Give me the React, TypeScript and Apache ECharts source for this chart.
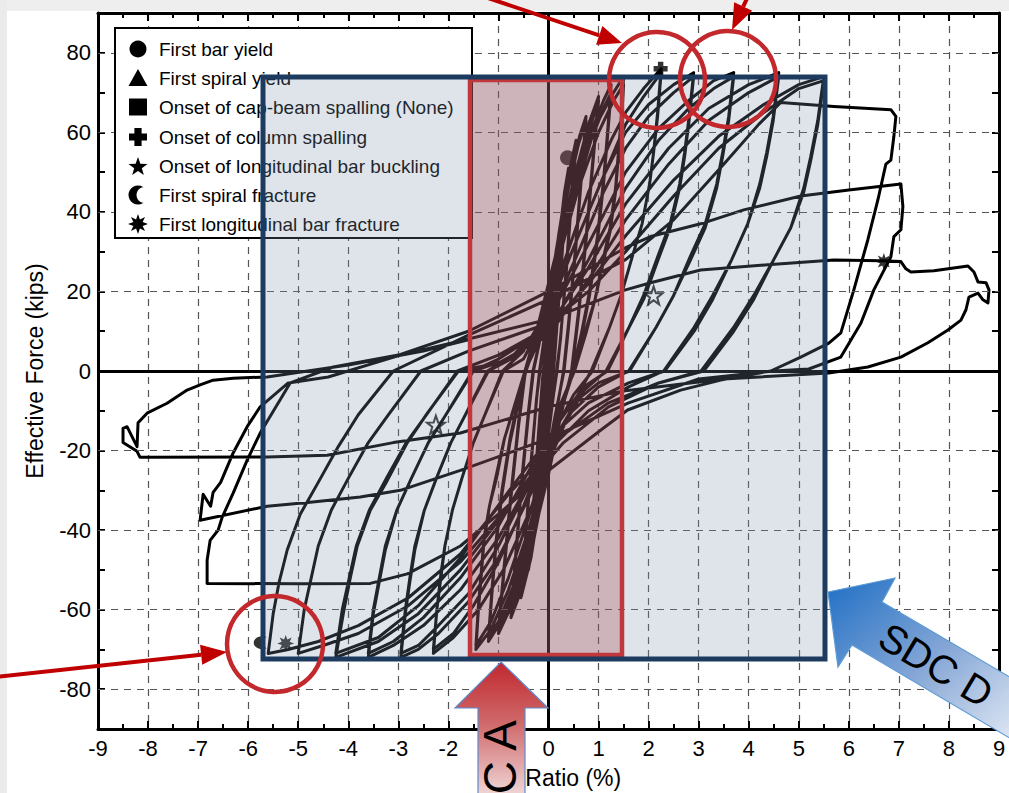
import React, { useEffect, useRef } from "react";
import * as echarts from "echarts";

// ---------------- data: drift ratio (%) vs effective force (kips) ----------------
const yGridValues = [-80, -60, -40, -20, 20, 40, 60, 80];
const legendNames = [
  "First bar yield",
  "First spiral yield",
  "Onset of cap-beam spalling (None)",
  "Onset of column spalling",
  "Onset of longitudinal bar buckling",
  "First spiral fracture",
  "First longitudinal bar fracture",
];

const c010 = [[0,0],[0.05,8],[0.1,15],[0.07,9],[0.03,1],[-0.02,-3],[-0.06,-9],[-0.1,-14],[-0.07,-8],[-0.03,-1],[0.01,2]];
const c020 = [[0.01,2],[0.1,14],[0.2,26],[0.15,17],[0.08,5],[0.02,-3],[-0.1,-15],[-0.2,-25],[-0.15,-16],[-0.08,-4],[-0.02,3]];
const c030 = [[-0.02,3],[0.1,17],[0.2,28],[0.3,37],[0.23,25],[0.14,10],[0.07,0],[-0.05,-12],[-0.18,-25],[-0.3,-36],[-0.23,-24],[-0.14,-9],[-0.07,0]];
const c040 = [[-0.07,0],[0.05,14],[0.2,32],[0.32,45],[0.4,51],[0.32,38],[0.22,20],[0.12,3],[0.05,-6],[-0.1,-22],[-0.25,-38],[-0.4,-50],[-0.32,-37],[-0.22,-19],[-0.12,-2],[-0.08,3]];
const c055a = [[-0.08,3],[0.05,18],[0.2,34],[0.38,48],[0.55,58],[0.46,44],[0.35,25],[0.24,8],[0.16,0],[0.02,-14],[-0.15,-31],[-0.35,-47],[-0.55,-57],[-0.46,-43],[-0.35,-24],[-0.24,-7],[-0.17,0]];
const c055b = [[-0.17,0],[-0.02,14],[0.15,30],[0.35,45],[0.55,56],[0.46,43],[0.35,24],[0.23,7],[0.17,0],[0.03,-12],[-0.15,-29],[-0.35,-45],[-0.55,-55],[-0.46,-42],[-0.35,-23],[-0.23,-6],[-0.18,0]];
const c075a = [[-0.18,0],[-0.02,14],[0.2,32],[0.45,50],[0.62,59],[0.75,64],[0.66,50],[0.54,31],[0.4,12],[0.3,0],[0.12,-13],[-0.1,-30],[-0.35,-46],[-0.6,-57],[-0.75,-62],[-0.66,-48],[-0.54,-29],[-0.4,-11],[-0.3,0]];
const c075b = [[-0.3,0],[-0.1,12],[0.15,29],[0.4,46],[0.6,57],[0.75,63],[0.66,49],[0.54,30],[0.4,11],[0.31,0],[0.12,-12],[-0.1,-28],[-0.35,-44],[-0.6,-56],[-0.75,-61],[-0.66,-47],[-0.54,-28],[-0.4,-10],[-0.31,0]];
const c100a = [[-0.31,0],[-0.1,12],[0.2,30],[0.5,48],[0.8,62],[1.0,69],[0.9,55],[0.76,35],[0.6,15],[0.46,0],[0.25,-11],[0,-26],[-0.35,-44],[-0.7,-58],[-1.0,-66],[-0.9,-52],[-0.76,-33],[-0.6,-14],[-0.46,0]];
const c100b = [[-0.46,0],[-0.2,10],[0.1,25],[0.45,44],[0.8,60],[1.0,68],[0.9,54],[0.76,34],[0.6,14],[0.47,0],[0.25,-10],[0,-23],[-0.35,-41],[-0.7,-56],[-1.0,-65],[-0.9,-51],[-0.76,-32],[-0.6,-13],[-0.47,0]];
const c125a = [[-0.47,0],[-0.2,11],[0.15,29],[0.5,46],[0.85,60],[1.1,68],[1.25,72],[1.18,60],[1.1,48],[0.98,34],[0.82,20],[0.65,9],[0.48,0],[0.25,-10],[0,-24],[-0.35,-42],[-0.7,-56],[-1.0,-64],[-1.2,-68],[-1.13,-56],[-1.05,-44],[-0.93,-31],[-0.77,-18],[-0.6,-8],[-0.45,0]];
const c125b = [[-0.45,0],[-0.2,9],[0.15,26],[0.5,43],[0.85,58],[1.1,66],[1.25,70],[1.18,59],[1.1,47],[0.98,33],[0.82,19],[0.65,8],[0.5,0],[0.25,-9],[0,-21],[-0.35,-39],[-0.7,-54],[-1.0,-63],[-1.2,-67],[-1.13,-55],[-1.05,-43],[-0.93,-30],[-0.77,-17],[-0.6,-7],[-0.47,0]];
const c150a = [[-0.47,0],[-0.2,12],[0.2,32],[0.6,50],[1.0,63],[1.3,70],[1.5,74],[1.45,63],[1.39,54],[1.34,46],[1.23,36],[1.09,28],[0.93,18],[0.76,11],[0.5,0],[0.25,-10],[0,-22],[-0.4,-40],[-0.8,-55],[-1.15,-65],[-1.45,-70],[-1.4,-60],[-1.34,-51],[-1.29,-43],[-1.18,-34],[-1.04,-27],[-0.88,-17],[-0.71,-10],[-0.45,0]];
const c150b = [[-0.45,0],[-0.2,9],[0.2,28],[0.6,46],[1.0,60],[1.3,68],[1.5,72],[1.45,61],[1.39,53],[1.34,45],[1.23,35],[1.09,27],[0.93,18],[0.76,10],[0.52,0],[0.25,-8],[0,-19],[-0.4,-37],[-0.8,-52],[-1.15,-63],[-1.45,-69],[-1.4,-59],[-1.34,-50],[-1.29,-42],[-1.18,-34],[-1.04,-26],[-0.88,-17],[-0.71,-10],[-0.47,0]];
const c225a = [[-0.47,0],[-0.1,10],[0.3,27],[0.8,45],[1.25,58],[1.54,65],[1.9,71],[2.25,76],[2.18,65],[2.1,55],[2.02,47],[1.87,37],[1.68,29],[1.45,19],[1.22,11],[0.85,0],[0.5,-8],[0.1,-20],[-0.4,-36],[-0.9,-50],[-1.4,-60],[-1.9,-67],[-2.3,-71],[-2.23,-60],[-2.15,-52],[-2.07,-44],[-1.92,-35],[-1.73,-27],[-1.5,-18],[-1.27,-11],[-0.9,0]];
const c225b = [[-0.9,0],[-0.5,3],[0,15],[0.5,31],[1.0,46],[1.54,62],[1.9,69],[2.25,75],[2.18,64],[2.1,55],[2.02,47],[1.87,37],[1.68,29],[1.45,19],[1.22,11],[0.88,0],[0.5,-6],[0,-18],[-0.5,-34],[-1.0,-48],[-1.5,-59],[-1.9,-66],[-2.3,-70],[-2.23,-60],[-2.15,-51],[-2.07,-44],[-1.92,-35],[-1.73,-27],[-1.5,-18],[-1.27,-11],[-0.92,0]];
const c290a = [[-0.92,0],[-0.5,5],[0,16],[0.6,34],[1.1,49],[1.54,60],[2.0,67],[2.5,72],[2.9,75],[2.81,64],[2.72,55],[2.62,47],[2.43,37],[2.19,29],[1.9,19],[1.61,11],[1.15,0],[0.7,-5],[0.2,-16],[-0.4,-32],[-1.0,-47],[-1.6,-58],[-2.2,-66],[-2.6,-70],[-2.95,-72],[-2.86,-61],[-2.77,-53],[-2.67,-45],[-2.48,-35],[-2.24,-27],[-1.95,-18],[-1.66,-11],[-1.2,0]];
const c290b = [[-1.2,0],[-0.6,4],[0,13],[0.6,30],[1.1,45],[1.54,56],[2.0,64],[2.5,70],[2.9,74],[2.81,63],[2.72,54],[2.62,46],[2.43,36],[2.19,28],[1.9,18],[1.61,11],[1.18,0],[0.7,-4],[0.2,-13],[-0.4,-29],[-1.0,-44],[-1.6,-56],[-2.2,-64],[-2.6,-69],[-2.95,-71],[-2.86,-60],[-2.77,-52],[-2.67,-44],[-2.48,-35],[-2.24,-27],[-1.95,-18],[-1.66,-11],[-1.22,0]];
const c370a = [[-1.22,0],[-0.7,4],[0,13],[0.8,32],[1.54,50],[2.2,61],[2.8,68],[3.3,73],[3.7,75],[3.6,64],[3.48,55],[3.36,47],[3.13,37],[2.84,29],[2.5,19],[2.15,11],[1.6,0],[1.0,-4],[0.4,-11],[-0.3,-26],[-1.0,-42],[-1.76,-55],[-2.5,-64],[-3.1,-69],[-3.6,-72],[-3.5,-61],[-3.38,-53],[-3.26,-45],[-3.03,-35],[-2.74,-27],[-2.4,-18],[-2.05,-11],[-1.5,0]];
const c370b = [[-1.5,0],[-0.8,3],[0,10],[0.8,28],[1.54,46],[2.2,58],[2.8,66],[3.3,71],[3.7,74],[3.6,63],[3.48,54],[3.36,46],[3.13,36],[2.84,28],[2.5,19],[2.15,11],[1.62,0],[1.0,-3],[0.4,-9],[-0.3,-23],[-1.0,-39],[-1.76,-52],[-2.5,-62],[-3.1,-68],[-3.6,-71],[-3.5,-60],[-3.38,-52],[-3.26,-44],[-3.03,-35],[-2.74,-27],[-2.4,-18],[-2.05,-11],[-1.52,0]];
const c460a = [[-1.52,0],[-1.0,3],[0,11],[0.8,26],[1.54,42],[2.4,56],[3.2,66],[4.0,72],[4.6,75],[4.49,64],[4.36,55],[4.22,47],[3.98,37],[3.66,28],[3.28,19],[2.91,11],[2.3,0],[1.6,-4],[0.8,-10],[0,-20],[-0.9,-36],[-1.76,-50],[-2.6,-61],[-3.4,-68],[-4.25,-72],[-4.1,-61],[-3.96,-52],[-3.82,-44],[-3.56,-35],[-3.22,-27.5],[-2.82,-18],[-2.42,-10.6],[-1.8,0]];
const c460b = [[-1.8,0],[-1.0,2],[0,9],[0.8,23],[1.54,38],[2.4,52],[3.2,63],[4.0,70],[4.6,74],[4.49,63],[4.36,54],[4.22,46],[3.98,37],[3.66,28],[3.28,18],[2.91,10],[2.32,0],[1.6,-3],[0.8,-8],[0,-17],[-0.9,-32],[-1.76,-47],[-2.6,-59],[-3.4,-67],[-4.25,-71],[-4.12,-60],[-3.98,-52],[-3.84,-44],[-3.58,-35],[-3.24,-27],[-2.84,-18],[-2.44,-11],[-1.82,0]];
const c550a = [[-1.82,0],[-1.0,4],[0,11],[0.8,22],[1.54,34],[2.5,48],[3.4,59],[4.3,67],[5.0,72],[5.5,74],[5.38,63],[5.24,54],[5.1,46],[4.84,36],[4.5,28],[4.1,19],[3.7,11],[3.05,0],[2.2,-3],[1.2,-9],[0.3,-18],[-0.8,-34],[-1.76,-48],[-2.8,-59],[-3.8,-66],[-4.5,-69],[-5.0,-71],[-4.88,-60],[-4.74,-52],[-4.6,-44],[-4.34,-35],[-4.0,-27],[-3.6,-18],[-3.2,-11],[-2.55,0]];
const c550b = [[-2.55,0],[-1.6,5],[0,12],[0.8,20],[1.54,30],[2.5,44],[3.4,56],[4.3,65],[5.0,71],[5.5,73],[5.38,62],[5.24,53],[5.1,45],[4.84,36],[4.5,28],[4.1,18],[3.7,10],[3.1,0],[2.2,-3],[1.2,-8],[0.3,-16],[-0.8,-31],[-1.76,-46],[-2.8,-57],[-3.8,-64],[-4.6,-68],[-5.2,-70],[-5.6,-71],[-5.5,-61],[-5.38,-53],[-5.22,-45],[-4.96,-36],[-4.6,-28],[-4.2,-19],[-3.8,-11],[-3.1,0]];
const c700a = [[-3.1,0],[-1.6,9],[0,18],[1.54,28],[2.5,38],[3.5,52],[4.2,62],[4.64,67.5],[5.7,66.5],[6.84,65.7],[6.94,64],[6.9,59],[6.84,53],[6.74,52],[6.58,43],[6.38,33],[6.1,20.4],[5.84,9.6],[5.6,7],[5.04,3.5],[4.44,0],[3.44,-2.3],[2.64,-4.8],[1.58,-9.8],[1.04,-14.9],[0,-25],[-1.0,-36],[-1.76,-44],[-2.82,-51],[-3.56,-53.4],[-5.0,-53.5],[-6.82,-53.4],[-6.82,-47.6],[-6.76,-42.6],[-6.6,-40],[-6.52,-36.8],[-6.3,-30.7],[-6.02,-22.4],[-5.76,-15.6],[-5.16,-3],[-4.3,1]];
const c700b = [[-4.3,1],[-3.0,4],[-1.6,10],[0,20],[1.54,31],[2.04,33.8],[3.04,37],[3.9,40.5],[5.04,44],[6.0,45.5],[7.04,47],[7.08,41.3],[7.04,35.5],[6.9,33.8],[6.84,28.7],[6.5,20.4],[6.24,12],[5.84,3.5],[5.2,0.5],[4.5,0],[3.0,-2],[1.6,-8],[0,-17],[-1.76,-25],[-2.96,-30],[-3.76,-31.7],[-4.76,-33],[-5.62,-34],[-6.96,-37.5],[-6.9,-31],[-6.75,-34],[-6.7,-30.5],[-6.55,-28],[-6.3,-20.6],[-6.02,-14],[-5.76,-9],[-5.2,-3],[-4.4,-1.5]];
const c880 = [[-4.4,-1.5],[-2.96,4],[-1.62,8],[0,13],[1.54,20.4],[2.04,22.2],[3.04,25.4],[4.38,26.7],[5.7,27.9],[6.64,27.7],[7.04,27.5],[7.14,25.7],[7.24,24.9],[7.7,25.2],[8.38,26.4],[8.5,24.9],[8.58,22.4],[8.74,22.2],[8.8,20.4],[8.78,17.1],[8.68,17.9],[8.58,19.6],[8.4,18.6],[8.34,15.4],[8.24,12.8],[7.98,10.3],[7.58,7.1],[7.04,3.5],[6.38,1],[5.6,-0.5],[3.5,-2],[1.5,-5],[0,-9],[-1.76,-15.6],[-3.1,-18],[-4.42,-21.2],[-5.62,-21.6],[-8.16,-21.7],[-8.22,-20.2],[-8.5,-18],[-8.5,-14.4],[-8.42,-14],[-8.22,-19],[-8.2,-13],[-8.02,-10.6],[-7.62,-8.1],[-7.22,-4.8],[-6.96,-3.5],[-6.7,-2.3],[-6.3,-1.8],[-5.62,-1.5],[-4.0,1.5],[-2.5,5],[-1.62,7.8]];

const cycles = [c010, c020, c030, c040, c055a, c055b, c075a, c075b, c100a, c100b, c125a, c125b, c150a, c150b,
  c225a, c225b, c290a, c290b, c370a, c370b, c460a, c460b, c550a, c550b, c700a, c700b, c880];
const response = cycles.flat();

const barYield = [[0.38, 53.6]];
const columnSpalling = [[2.24, 76]];
const barBuckling = [[2.1, 19], [-2.25, -13.5]];
const spiralFracture = [[-5.76, -68.3]];
const barFracture = [[6.7, 27.5], [-5.25, -68.5]];

// ---------------- shapes ----------------
function starPts(cx: number, cy: number, R: number, r: number, n: number) {
  const pts: number[][] = [];
  for (let k = 0; k < n * 2; k++) {
    const a = (k * Math.PI) / n - Math.PI / 2;
    const rad = k % 2 === 0 ? R : r;
    pts.push([cx + rad * Math.cos(a), cy + rad * Math.sin(a)]);
  }
  return pts;
}
const toPath = (pts: number[][]) =>
  "path://M" + pts.map((p) => p[0].toFixed(2) + "," + p[1].toFixed(2)).join("L") + "Z";
const STAR = toPath(starPts(0, 0, 10, 4, 5));
const BURST = toPath(starPts(0, 0, 10, 5, 8));
const PLUS = "path://M-3.5,-9L3.5,-9L3.5,-3.5L9,-3.5L9,3.5L3.5,3.5L3.5,9L-3.5,9L-3.5,3.5L-9,3.5L-9,-3.5L-3.5,-3.5Z";
const CRESCENT = "path://M4.5,-7.8A9,9 0 1,0 4.5,7.8A9.26,9.26 0 0,1 4.5,-7.8Z";

const FONT = "'Liberation Sans', Arial, sans-serif";

function plusPts(cx: number, cy: number) {
  const a = 9, b = 3.6;
  return [[cx - b, cy - a], [cx + b, cy - a], [cx + b, cy - b], [cx + a, cy - b], [cx + a, cy + b], [cx + b, cy + b],
    [cx + b, cy + a], [cx - b, cy + a], [cx - b, cy + b], [cx - a, cy + b], [cx - a, cy - b], [cx - b, cy - b]];
}

function arrow(x1: number, y1: number, tx: number, ty: number, len: number, half: number) {
  const dx = tx - x1, dy = ty - y1;
  const L = Math.hypot(dx, dy);
  const ux = dx / L, uy = dy / L;
  const bx = tx - ux * len, by = ty - uy * len;
  const px = -uy, py = ux;
  return [
    { type: "line", z: 110, shape: { x1, y1, x2: bx, y2: by }, style: { stroke: "#c00000", lineWidth: 4 } },
    { type: "polygon", z: 110, shape: { points: [[tx, ty], [bx + px * half, by + py * half], [bx - px * half, by - py * half]] }, style: { fill: "#c00000" } },
  ];
}

function buildGraphic() {
  const rows = [49, 78, 107, 137, 166, 195, 224];
  const cx = 138;
  const els: any[] = [];
  els.push({ type: "rect", z: 1, shape: { x: 0, y: 0, width: 1009, height: 11 }, style: { fill: "#eeeeee" } });
  els.push({ type: "rect", z: 1, shape: { x: 0, y: 0, width: 7, height: 793 }, style: { fill: "#ebebeb" } });
  // legend
  els.push({ type: "rect", z: 50, shape: { x: 115, y: 28, width: 357, height: 210 }, style: { fill: "#fff", stroke: "#000", lineWidth: 2 } });
  legendNames.forEach((name, i) => {
    els.push({ type: "text", z: 51, x: 159, y: rows[i], style: { text: name, fontSize: 19, fontFamily: FONT, fill: "#000", align: "left", verticalAlign: "middle" } });
  });
  els.push({ type: "circle", z: 51, shape: { cx, cy: rows[0], r: 8.5 }, style: { fill: "#000" } });
  els.push({ type: "polygon", z: 51, shape: { points: [[cx, rows[1] - 9], [cx - 9.5, rows[1] + 8], [cx + 9.5, rows[1] + 8]] }, style: { fill: "#000" } });
  els.push({ type: "rect", z: 51, shape: { x: cx - 9, y: rows[2] - 8.5, width: 18, height: 17 }, style: { fill: "#000" } });
  els.push({ type: "polygon", z: 51, shape: { points: plusPts(cx, rows[3]) }, style: { fill: "#000" } });
  els.push({ type: "polygon", z: 51, shape: { points: starPts(cx, rows[4] + 1, 10, 4, 5) }, style: { fill: "#000" } });
  els.push({ type: "circle", z: 51, shape: { cx, cy: rows[5], r: 9.5 }, style: { fill: "#000" } });
  els.push({ type: "circle", z: 52, shape: { cx: cx + 6.5, cy: rows[5], r: 8 }, style: { fill: "#fff" } });
  els.push({ type: "polygon", z: 51, shape: { points: starPts(cx, rows[6], 10, 5, 8) }, style: { fill: "#000" } });

  // axis names
  els.push({ type: "text", z: 5, x: 35, y: 371, rotation: Math.PI / 2, style: { text: "Effective Force (kips)", fontSize: 23, fontFamily: FONT, fill: "#000", align: "center", verticalAlign: "middle" } });
  els.push({ type: "text", z: 5, x: 549, y: 778, style: { text: "Drift Ratio (%)", fontSize: 23, fontFamily: FONT, fill: "#000", align: "center", verticalAlign: "middle" } });

  // overlays
  els.push({ type: "rect", z: 100, shape: { x: 263, y: 77, width: 562, height: 582 }, style: { fill: "rgba(127,147,171,0.25)" } });
  els.push({ type: "rect", z: 101, shape: { x: 470, y: 80, width: 152, height: 575 }, style: { fill: "rgba(154,43,49,0.26)", stroke: "#c0373c", lineWidth: 4.5 } });
  els.push({ type: "rect", z: 102, shape: { x: 263, y: 77, width: 562, height: 582 }, style: { fill: "none", stroke: "#1d3a5f", lineWidth: 5 } });

  // circles
  [[657, 80], [728, 79], [275, 644]].forEach(([x, y]) => {
    els.push({ type: "circle", z: 110, shape: { cx: x, cy: y, r: 48 }, style: { fill: "none", stroke: "#c3282d", lineWidth: 4.5 } });
  });
  els.push(...arrow(470, -8, 622, 43, 24, 10));
  els.push(...arrow(752, -12, 732, 30, 26, 10));
  els.push(...arrow(-5, 677, 227, 652, 26, 10));

  // block arrows
  els.push({
    type: "polygon", z: 120,
    shape: { points: [[501, 662], [548, 708], [525, 708], [525, 800], [478, 800], [478, 708], [455, 708]] },
    style: {
      fill: new echarts.graphic.LinearGradient(0, 0, 0, 1, [
        { offset: 0, color: "#c0282d" }, { offset: 0.45, color: "#d06a6c" }, { offset: 1, color: "#f2dede" },
      ]),
      stroke: "#5b8bd0", lineWidth: 1.2,
    },
  });
  els.push({ type: "text", z: 121, x: 500, y: 720, rotation: Math.PI / 2, style: { text: "SDC A", fontSize: 46, fontFamily: FONT, fill: "#000", align: "right", verticalAlign: "middle" } });
  els.push({
    type: "polygon", z: 120,
    shape: { points: [[828, 592], [895, 578], [882, 602], [1030, 689], [1030, 750], [852, 645], [838, 667]] },
    style: {
      fill: new echarts.graphic.LinearGradient(0, 0, 1, 1, [
        { offset: 0, color: "#1f6fc5" }, { offset: 0.5, color: "#86a7d6" }, { offset: 1, color: "#eef2f8" },
      ]),
      stroke: "#5b9bd5", lineWidth: 1.2,
    },
  });
  els.push({ type: "text", z: 121, x: 936, y: 665, rotation: -0.54, style: { text: "SDC D", fontSize: 40, fontFamily: FONT, fill: "#000", align: "center", verticalAlign: "middle" } });
  return els;
}

const axisCommon = {
  axisLine: { onZero: false, lineStyle: { color: "#000", width: 3 } },
  axisTick: { inside: true, length: 8, lineStyle: { color: "#000", width: 2 } },
};

export default function App() {
  const ref = useRef<HTMLDivElement>(null);
  useEffect(() => {
    const chart = echarts.init(ref.current!, null, { renderer: "svg" });
    const option: any = {
      animation: false,
      grid: { left: 98, right: 10, top: 13, bottom: 64, containLabel: false },
      xAxis: [
        {
          type: "value", min: -9, max: 9, interval: 1, position: "bottom", ...axisCommon,
          minorTick: { show: true, splitNumber: 2, length: 5, lineStyle: { color: "#000", width: 2 } },
          axisLabel: { fontSize: 22, color: "#000", fontFamily: FONT, margin: 8 },
          splitLine: { show: true, lineStyle: { type: [7, 6], color: "#555", width: 1.2 } },
        },
        {
          type: "value", min: -9, max: 9, interval: 1, position: "top", ...axisCommon,
          minorTick: { show: true, splitNumber: 2, length: 5, lineStyle: { color: "#000", width: 2 } },
          axisLabel: { show: false }, splitLine: { show: false },
        },
      ],
      yAxis: [
        {
          type: "value", min: -90, max: 90, interval: 10, position: "left", ...axisCommon,
          axisTick: { inside: true, length: 7, lineStyle: { color: "#000", width: 2 } },
          axisLabel: {
            fontSize: 22, color: "#000", fontFamily: FONT, margin: 7,
            formatter: (v: number) => (v % 20 === 0 && Math.abs(v) < 90 ? String(v) : ""),
          },
          splitLine: { show: false },
        },
        {
          type: "value", min: -90, max: 90, interval: 10, position: "right", ...axisCommon,
          axisTick: { inside: true, length: 7, lineStyle: { color: "#000", width: 2 } },
          axisLabel: { show: false }, splitLine: { show: false },
        },
      ],
      series: [
        {
          type: "line", data: [], z: 1, silent: true,
          markLine: {
            silent: true, symbol: ["none", "none"], label: { show: false }, animation: false,
            lineStyle: { type: [7, 6], color: "#555", width: 1.2 },
            data: [
              ...yGridValues.map((v) => ({ yAxis: v })),
              { yAxis: 0, lineStyle: { type: "solid", color: "#000", width: 3 } },
              { xAxis: 0, lineStyle: { type: "solid", color: "#000", width: 3 } },
            ],
          },
        },
        {
          name: "Response", type: "line", data: response, z: 3, showSymbol: false, symbol: "none",
          lineStyle: { color: "#000", width: 3, join: "round", cap: "round" }, silent: true,
        },
        { type: "scatter", data: barYield, symbol: "circle", symbolSize: 15, itemStyle: { color: "#000" }, z: 5, silent: true },
        { type: "scatter", data: columnSpalling, symbol: PLUS, symbolSize: 14, itemStyle: { color: "#000" }, z: 5, silent: true },
        { type: "scatter", data: barBuckling, symbol: STAR, symbolSize: 18, itemStyle: { color: "rgba(0,0,0,0)", borderColor: "#000", borderWidth: 2 }, z: 5, silent: true },
        { type: "scatter", data: spiralFracture, symbol: CRESCENT, symbolSize: 13, itemStyle: { color: "#000" }, z: 5, silent: true },
        { type: "scatter", data: barFracture, symbol: BURST, symbolSize: 17, itemStyle: { color: "#000" }, z: 5, silent: true },
      ],
      graphic: buildGraphic(),
    };
    chart.setOption(option);
    return () => chart.dispose();
  }, []);
  return <div ref={ref} style={{ position: "fixed", left: 0, top: 0, width: 1009, height: 793, background: "#fff" }} />;
}
